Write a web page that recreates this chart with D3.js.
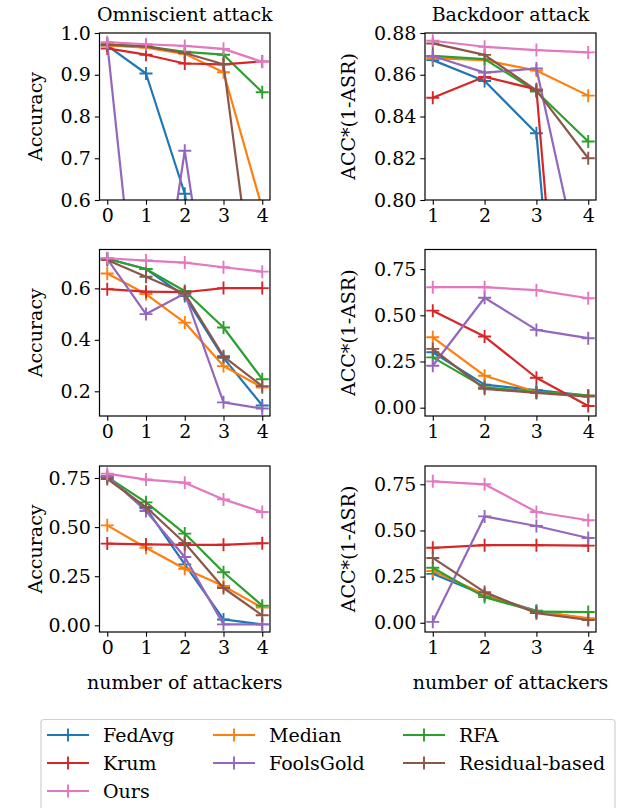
<!DOCTYPE html>
<meta charset="utf-8">
<style>
body { margin: 0; background: #fff; }
svg text { font-family: "DejaVu Serif", serif; fill: #000; }
</style>
<svg width="624" height="808"></svg>
<script src="https://cdn.jsdelivr.net/npm/d3@7"></script>
<script>

// methods, in the order they are drawn
var methods = ["FedAvg", "Median", "RFA", "Krum", "FoolsGold", "Residual-based", "Ours"];
var colors  = ["#1f77b4", "#ff7f0e", "#2ca02c", "#d62728", "#9467bd", "#8c564b", "#e377c2"];

var xOmni = [0, 1, 2, 3, 4];
var xBack = [1, 2, 3, 4];

// row 1
var omni1 = [
  [0.970, 0.903, 0.615, 0.10, 0.10],
  [0.970, 0.965, 0.950, 0.906, 0.58],
  [0.972, 0.968, 0.955, 0.948, 0.858],
  [0.963, 0.948, 0.927, 0.925, 0.932],
  [0.975, 0.10, 0.718, 0.10, 0.10],
  [0.972, 0.968, 0.952, 0.925, 0.22],
  [0.978, 0.973, 0.969, 0.962, 0.931]
];
var back1 = [
  [0.867, 0.857, 0.832, 0.55],
  [0.868, 0.867, 0.862, 0.850],
  [0.869, 0.8675, 0.852, 0.828],
  [0.849, 0.859, 0.853, 0.56],
  [0.869, 0.861, 0.863, 0.75],
  [0.875, 0.8695, 0.8525, 0.820],
  [0.8763, 0.8734, 0.8718, 0.8707]
];
// row 2
var omni2 = [
  [0.715, 0.675, 0.57, 0.33, 0.145],
  [0.658, 0.578, 0.467, 0.298, 0.215],
  [0.715, 0.675, 0.59, 0.448, 0.247],
  [0.597, 0.587, 0.585, 0.601, 0.601],
  [0.715, 0.50, 0.58, 0.157, 0.133],
  [0.710, 0.645, 0.58, 0.336, 0.22],
  [0.717, 0.708, 0.700, 0.682, 0.665]
];
var back2 = [
  [0.30, 0.125, 0.095, 0.065],
  [0.381, 0.173, 0.085, 0.065],
  [0.272, 0.11, 0.085, 0.065],
  [0.525, 0.385, 0.162, 0.009],
  [0.227, 0.595, 0.421, 0.376],
  [0.318, 0.102, 0.08, 0.06],
  [0.652, 0.652, 0.636, 0.592]
];
// row 3
var omni3 = [
  [0.755, 0.596, 0.31, 0.03, 0.005],
  [0.509, 0.395, 0.288, 0.200, 0.09],
  [0.755, 0.626, 0.467, 0.27, 0.10],
  [0.416, 0.412, 0.410, 0.410, 0.418],
  [0.760, 0.582, 0.348, 0.005, 0.005],
  [0.745, 0.602, 0.419, 0.19, 0.051],
  [0.772, 0.742, 0.726, 0.641, 0.577]
];
var back3 = [
  [0.265, 0.15, 0.065, 0.02],
  [0.28, 0.155, 0.06, 0.025],
  [0.298, 0.139, 0.06, 0.058],
  [0.406, 0.42, 0.42, 0.418],
  [0.005, 0.576, 0.524, 0.459],
  [0.351, 0.166, 0.052, 0.015],
  [0.766, 0.75, 0.60, 0.555]
];

var yTicksA = [0.6, 0.7, 0.8, 0.9, 1.0];
var yTicksB = [0.80, 0.82, 0.84, 0.86, 0.88];
var yTicksC = [0.2, 0.4, 0.6];
var yTicksD = [0, 0.25, 0.5, 0.75];

var svg = d3.select("svg");
var fs = 19;

var cols = [{x0: 99.5, x1: 270}, {x0: 425, x1: 596}];
var rows = [{y0: 33, y1: 200}, {y0: 249.5, y1: 416}, {y0: 466, y1: 632}];

var panels = [
  {r: 0, c: 0, xs: xOmni, data: omni1, ydom: [0.6, 1.0], yt: yTicksA, fmt: ".1f"},
  {r: 0, c: 1, xs: xBack, data: back1, ydom: [0.80, 0.88], yt: yTicksB, fmt: ".2f"},
  {r: 1, c: 0, xs: xOmni, data: omni2, ydom: [0.104, 0.751], yt: yTicksC, fmt: ".1f"},
  {r: 1, c: 1, xs: xBack, data: back2, ydom: [-0.045, 0.856], yt: yTicksD, fmt: ".2f"},
  {r: 2, c: 0, xs: xOmni, data: omni3, ydom: [-0.034, 0.811], yt: yTicksD, fmt: ".2f"},
  {r: 2, c: 1, xs: xBack, data: back3, ydom: [-0.05, 0.849], yt: yTicksD, fmt: ".2f"}
];

function plus(sel, s) {
  sel.append("path").attr("d", "M" + (-s) + ",0H" + s + "M0," + (-s) + "V" + s);
}

panels.forEach(function(p, k) {
  var col = cols[p.c], row = rows[p.r];
  var xd = p.c == 0 ? [-0.2, 4.2] : [0.85, 4.15];
  var x = d3.scaleLinear().domain(xd).range([col.x0, col.x1]);
  var y = d3.scaleLinear().domain(p.ydom).range([row.y1, row.y0]);

  svg.append("clipPath").attr("id", "clip" + k)
    .append("rect").attr("x", col.x0).attr("y", row.y0)
    .attr("width", col.x1 - col.x0).attr("height", row.y1 - row.y0);

  var g = svg.append("g").attr("clip-path", "url(#clip" + k + ")");
  var line = d3.line().x(function(d) { return x(d[0]); }).y(function(d) { return y(d[1]); });

  p.data.forEach(function(vals, i) {
    var pts = vals.map(function(v, j) { return [p.xs[j], v]; });
    g.append("path").attr("d", line(pts)).attr("fill", "none")
      .attr("stroke", colors[i]).attr("stroke-width", 2.2).attr("stroke-linejoin", "round");
    pts.forEach(function(d) {
      var m = g.append("g").attr("transform", "translate(" + x(d[0]) + "," + y(d[1]) + ")")
        .attr("stroke", colors[i]).attr("stroke-width", 1.9);
      plus(m, 6.5);
    });
  });

  var ax = svg.append("g").attr("transform", "translate(0," + row.y1 + ")")
    .call(d3.axisBottom(x).tickValues(p.xs).tickFormat(d3.format("d")).tickSize(4.7).tickPadding(4));
  var ay = svg.append("g").attr("transform", "translate(" + col.x0 + ",0)")
    .call(d3.axisLeft(y).tickValues(p.yt).tickFormat(d3.format(p.fmt)).tickSize(4.7).tickPadding(4));
  [ax, ay].forEach(function(a) {
    a.select(".domain").remove();
    a.selectAll("line").attr("stroke", "#000").attr("stroke-width", 1.1);
    a.selectAll("text").style("font-family", "DejaVu Serif").style("font-size", fs + "px").attr("fill", "#000");
  });

  svg.append("rect").attr("x", col.x0).attr("y", row.y0)
    .attr("width", col.x1 - col.x0).attr("height", row.y1 - row.y0)
    .attr("fill", "none").attr("stroke", "#000").attr("stroke-width", 1.2);

  var cx = (col.x0 + col.x1) / 2, cy = (row.y0 + row.y1) / 2;
  svg.append("text").attr("transform", "translate(" + (p.c == 0 ? 35 : 348) + "," + cy + ") rotate(-90)")
    .attr("text-anchor", "middle").attr("dy", "0.35em").style("font-size", fs + "px")
    .text(p.c == 0 ? "Accuracy" : "ACC*(1-ASR)");

  if (p.r == 0)
    svg.append("text").attr("x", cx).attr("y", 21).attr("text-anchor", "middle")
      .style("font-size", fs + "px").text(p.c == 0 ? "Omniscient attack" : "Backdoor attack");
  if (p.r == 2)
    svg.append("text").attr("x", cx).attr("y", 689).attr("text-anchor", "middle")
      .style("font-size", fs + "px").text("number of attackers");
});

// legend
var lg = svg.append("g");
lg.append("rect").attr("x", 41).attr("y", 719.5).attr("width", 574).attr("height", 110)
  .attr("rx", 3).attr("fill", "#fff").attr("stroke", "#d0d0d0").attr("stroke-width", 1.2);

var legOrder = ["FedAvg", "Median", "RFA", "Krum", "FoolsGold", "Residual-based", "Ours"];
var legX = [47, 213, 403];
var legY = [735, 763, 791];
legOrder.forEach(function(name, n) {
  var i = methods.indexOf(name);
  var lx = legX[n % 3], ly = legY[Math.floor(n / 3)];
  lg.append("line").attr("x1", lx).attr("x2", lx + 42).attr("y1", ly).attr("y2", ly)
    .attr("stroke", colors[i]).attr("stroke-width", 2.2);
  var m = lg.append("g").attr("transform", "translate(" + (lx + 21) + "," + ly + ")")
    .attr("stroke", colors[i]).attr("stroke-width", 1.9);
  plus(m, 6.5);
  lg.append("text").attr("x", lx + 56).attr("y", ly).attr("dy", "0.35em")
    .style("font-size", fs + "px").text(name);
});

</script>
